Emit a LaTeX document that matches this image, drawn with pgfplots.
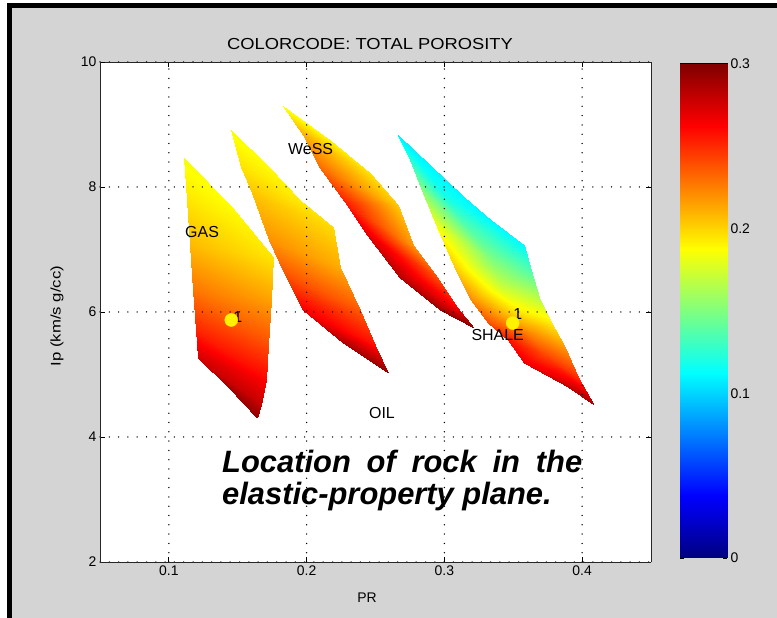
\documentclass[border=0pt]{standalone}
\usepackage{fontspec}
\setmainfont{Liberation Sans}
\usepackage{graphicx}
\usepackage{pgfplots}
\pgfplotsset{compat=1.18}
\definecolor{bg}{RGB}{212,212,212}
\newcommand\lbl{\fontsize{16}{16}\selectfont}
\newcommand\tkf{\fontsize{14}{14}\selectfont}
\begin{document}
\begin{tikzpicture}
\fill[white] (0bp,0bp) rectangle (777bp,618bp);
\fill[black] (7bp,0bp) rectangle (777bp,615bp);
\fill[bg] (12bp,0bp) rectangle (777bp,610bp);
\fill[white] (100bp,56bp) rectangle (651bp,556bp);
\begin{axis}[
  at={(100bp,56bp)}, anchor=south west,
  scale only axis, width=551bp, height=500bp,
  view={0}{90},
  xmin=0.05, xmax=0.45, ymin=2, ymax=10, zmin=0, zmax=0.3,
  xtick={0.1,0.2,0.3,0.4}, ytick={2,4,6,8,10}, ztick=\empty,
  grid=major,
  major grid style={black, line width=1.5bp, dash pattern=on 0bp off 9.3bp, line cap=round},
  axis line style={black!85, line width=0.9bp},
  tick style={black, line width=0.9bp},
  major tick length=5bp,
  tick align=inside,
  colormap/jet,
  point meta min=0, point meta max=0.3,
  tick label style={font=\tkf},
  /pgf/number format/assume math mode=true,
]
% GAS
\addplot3[surf, shader=interp, mesh/cols=2, point meta=z] table {
x y z
0.1109 8.464 0.185
0.1109 8.464 0.185
0.1131 7.792 0.195
0.1460 7.680 0.188
0.1153 7.072 0.208
0.1759 6.880 0.195
0.1175 6.352 0.228
0.1745 6.192 0.215
0.1197 5.712 0.252
0.1723 5.472 0.240
0.1212 5.264 0.276
0.1708 4.912 0.262
0.1438 4.784 0.290
0.1672 4.512 0.280
0.1642 4.304 0.295
0.1642 4.304 0.295
};
% second sand
\addplot3[surf, shader=interp, mesh/cols=2, point meta=z] table {
x y z
0.1453 8.912 0.185
0.1453 8.912 0.185
0.1526 8.320 0.196
0.1730 8.320 0.188
0.1606 7.904 0.205
0.1949 7.792 0.193
0.1730 7.152 0.220
0.2190 7.360 0.198
0.1839 6.624 0.238
0.2241 6.720 0.212
0.1971 6.032 0.265
0.2387 6.032 0.236
0.2263 5.504 0.287
0.2496 5.472 0.258
0.2591 5.024 0.295
0.2591 5.024 0.295
};
% WeSS
\addplot3[surf, shader=interp, mesh/cols=2, point meta=z] table {
x y z
0.1825 9.296 0.185
0.1825 9.296 0.185
0.1971 8.832 0.212
0.2168 8.752 0.190
0.2095 8.304 0.232
0.2460 8.224 0.196
0.2292 7.712 0.256
0.2664 7.712 0.203
0.2438 7.232 0.272
0.2774 7.072 0.218
0.2679 6.544 0.285
0.2949 6.560 0.240
0.2971 6.032 0.292
0.3095 6.080 0.262
0.3212 5.744 0.298
0.3212 5.744 0.298
};
% SHALE
\addplot3[surf, shader=interp, mesh/cols=3, point meta=z] table {
x y z
0.2664 8.832 0.108
0.2664 8.832 0.108
0.2664 8.832 0.108
0.2752 8.432 0.125
0.2825 8.392 0.112
0.2898 8.352 0.110
0.2847 7.904 0.155
0.2993 7.872 0.120
0.3139 7.840 0.110
0.2949 7.360 0.185
0.3142 7.416 0.135
0.3336 7.472 0.110
0.3095 6.624 0.205
0.3336 6.848 0.150
0.3577 7.072 0.112
0.3190 6.192 0.222
0.3409 6.432 0.170
0.3628 6.672 0.135
0.3314 5.824 0.240
0.3500 6.032 0.195
0.3686 6.240 0.165
0.3460 5.552 0.258
0.3617 5.696 0.220
0.3774 5.840 0.192
0.3577 5.184 0.268
0.3723 5.328 0.242
0.3869 5.472 0.215
0.3898 4.800 0.282
0.3934 4.880 0.265
0.3971 4.960 0.248
0.4088 4.512 0.290
0.4088 4.512 0.290
0.4088 4.512 0.290
};
\addplot3[only marks, mark=*, mark size=6.5bp, mark options={draw=yellow, fill=yellow}] coordinates {(0.1453,5.872,0.3) (0.3496,5.824,0.3)};
\node[font=\lbl] at (axis cs:0.1241,7.28,0.3) {GAS};
\node[font=\lbl] at (axis cs:0.2029,8.608,0.3) {WeSS};
\node[font=\lbl] at (axis cs:0.3387,5.630,0.3) {SHALE};
\node[font=\lbl] at (axis cs:0.2547,4.384,0.3) {OIL};
\node[font=\lbl] at (axis cs:0.1500,5.920,0.3) {1};
\node[font=\lbl] at (axis cs:0.3533,5.960,0.3) {1};
\end{axis}
% colour bar
\begin{axis}[
  at={(680bp,60bp)}, anchor=south west,
  scale only axis, width=47bp, height=494bp,
  xmin=0, xmax=1, ymin=0, ymax=0.3,
  xtick=\empty, ytick={0,0.1,0.2,0.3},
  yticklabels={0,0.1,0.2,0.3},
  yticklabel pos=right,
  tick align=inside, major tick length=4bp,
  tick style={black, line width=0.9bp},
  axis line style={black, line width=1bp},
  tick label style={font=\tkf},
  /pgf/number format/assume math mode=true,
  colormap/jet,
  point meta min=0, point meta max=0.3,
]
\addplot[patch, patch type=rectangle, shader=interp, point meta=\thisrow{c}] table {
x y c
0 0 0
1 0 0
1 0.0375 0.0375
0 0.0375 0.0375
0 0.0375 0.0375
1 0.0375 0.0375
1 0.1125 0.1125
0 0.1125 0.1125
0 0.1125 0.1125
1 0.1125 0.1125
1 0.1875 0.1875
0 0.1875 0.1875
0 0.1875 0.1875
1 0.1875 0.1875
1 0.2625 0.2625
0 0.2625 0.2625
0 0.2625 0.2625
1 0.2625 0.2625
1 0.3 0.3
0 0.3 0.3
};
\end{axis}
\node[font=\fontsize{16}{16}\selectfont] at (370bp,574bp) {\scalebox{1.15}[1]{COLORCODE: TOTAL POROSITY}};
\node[font=\tkf] at (367bp,20bp) {PR};
\node[font=\tkf, rotate=90] at (57bp,302bp) {\scalebox{1.2}[1]{Ip (km/s g/cc)}};
\node[anchor=base west, inner sep=0pt, font=\fontsize{31}{31}\selectfont\bfseries\itshape] at (222bp,145bp) {\makebox[360bp][s]{Location of rock in the}};
\node[anchor=base west, inner sep=0pt, font=\fontsize{31}{31}\selectfont\bfseries\itshape] at (222bp,113bp) {elastic-property plane.};
\end{tikzpicture}
\end{document}
